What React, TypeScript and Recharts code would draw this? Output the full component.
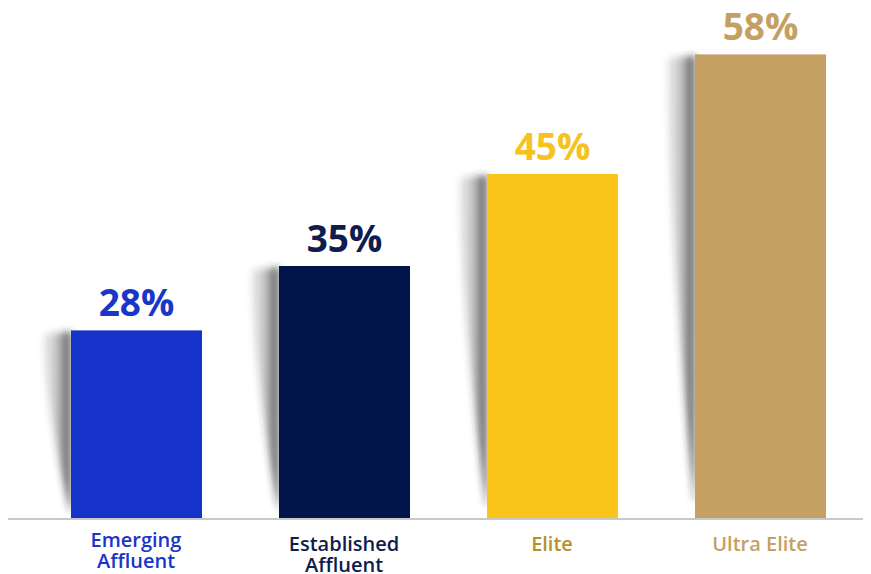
import { BarChart, Bar, XAxis, YAxis, Cell, LabelList } from "recharts";

const SEGMENTS = ["Emerging Affluent", "Established Affluent", "Elite", "Ultra Elite"];
const SHARE = [28, 35, 45, 58];
const BAR_COLORS = ["#1633c9", "#02154a", "#fbc418", "#c4a062"];
const TICK_COLORS = ["#1a36c8", "#0f1c4d", "#b8912a", "#c4a062"];
const VALUE_COLORS = ["#1a36c8", "#0f1c4d", "#f7c21d", "#c4a062"];

const data = SEGMENTS.map((name, i) => ({ name, value: SHARE[i] }));

const FONT = "'Open Sans', 'Noto Sans', sans-serif";

// bar with a soft curled shadow on its left side
const ShadowBar = (props: any) => {
   const { x, y, width, height, fill } = props;
   const shadow = `M${x},${y + 1} L${x - 30},${y + 4} Q${x - 20},${y + height * 0.55} ${x - 1},${y + height * 0.96} L${x},${y + height * 0.96} Z`;
   return (
      <g>
         <path d={shadow} fill="url(#shadowGrad)" filter="url(#shadowBlur)" />
         <rect x={x} y={y} width={width} height={height} fill={fill} />
      </g>
   );
};

const renderValue = (props: any) => {
   const { x, y, width, index, value } = props;
   return (
      <text
         x={x + width / 2}
         y={y - 14}
         textAnchor="middle"
         fill={VALUE_COLORS[index]}
         fontFamily={FONT}
         fontWeight={700}
         fontSize={37}
      >{`${value}%`}</text>
   );
};

const SegmentTick = (props: any) => {
   const { x, y, payload, index } = props;
   const words = String(payload.value).split(" ");
   const lines = words.length > 1 && words[0] !== "Ultra" ? words : [payload.value];
   return (
      <text
         x={x}
         y={y}
         textAnchor="middle"
         fill={TICK_COLORS[index]}
         fontFamily={FONT}
         fontWeight={600}
         fontSize={20}
      >
         {lines.map((line: string, i: number) => (
            <tspan key={i} x={x} dy={i === 0 ? (index === 0 ? 20 : 24) : 21}>
               {line}
            </tspan>
         ))}
      </text>
   );
};

export default function App() {
   return (
      <BarChart
         width={863}
         height={566}
         data={data}
         margin={{ top: 28, right: 0, bottom: 0, left: 0 }}
         barSize={131}
      >
         <defs>
            <linearGradient id="shadowGrad" x1="0" y1="0" x2="1" y2="0">
               <stop offset="0%" stopColor="#000" stopOpacity={0} />
               <stop offset="55%" stopColor="#333" stopOpacity={0.3} />
               <stop offset="100%" stopColor="#222" stopOpacity={0.8} />
            </linearGradient>
            <filter id="shadowBlur" x="-50%" y="-10%" width="200%" height="120%">
               <feGaussianBlur stdDeviation="3.5" />
            </filter>
         </defs>
         <XAxis
            dataKey="name"
            height={55}
            padding={{ left: 24, right: 7 }}
            axisLine={{ stroke: "#c8c8c8", strokeWidth: 2 }}
            tickLine={false}
            interval={0}
            tick={<SegmentTick />}
         />
         <YAxis hide domain={[7.5, 60]} allowDataOverflow />
         <Bar dataKey="value" shape={<ShadowBar />} isAnimationActive={false}>
            {data.map((_, i) => (
               <Cell key={`cell-${i}`} fill={BAR_COLORS[i]} />
            ))}
            <LabelList dataKey="value" content={renderValue} />
         </Bar>
      </BarChart>
   );
}
